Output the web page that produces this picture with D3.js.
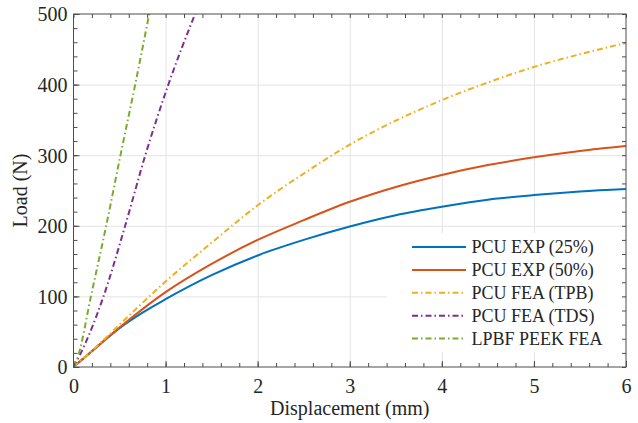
<!doctype html>
<html>
<head>
<script src="https://cdnjs.cloudflare.com/ajax/libs/d3/7.8.5/d3.min.js"></script>
<style>
body { margin: 0; background: #fff; }
.grid line { stroke: #e3e3e3; stroke-width: 1px; }
.grid path { display: none; }
.ax path { display: none; }
.ax line { stroke: #4d4d4d; stroke-width: 1px; }
</style>
</head>
<body>
<svg width="638" height="423"></svg>
<script>
// displacement (mm) samples for the experimental curves and TPB model
var disp = [0, 0.25, 0.5, 0.75, 1, 1.5, 2, 2.5, 3, 3.5, 4, 4.5, 5, 5.5, 6];
var exp25 = [0, 28, 55, 77, 96, 130, 158, 180, 199, 215, 227, 237, 243.5, 248.5, 252];
var exp50 = [0, 28, 56, 82, 106, 146, 180, 208, 234, 255, 272, 286, 297, 306, 313];
var feaTPB = [0, 29, 60, 91, 121, 176, 229, 274, 315, 349, 378, 403, 425, 443, 459];
// the two stiff models only go up to 500 N
var tdsDisp = [0, 0.073, 0.326, 0.561, 0.78, 1.03, 1.32];
var tdsLoad = [0, 18, 100, 200, 300, 400, 500];
var peekDisp = [0, 0.055, 0.189, 0.355, 0.51, 0.67, 0.822];
var peekLoad = [0, 18, 100, 200, 300, 400, 500];

var xTicks = [0, 1, 2, 3, 4, 5, 6];
var yTicks = [0, 100, 200, 300, 400, 500];
var names = ["PCU EXP (25%)", "PCU EXP (50%)", "PCU FEA (TPB)", "PCU FEA (TDS)", "LPBF PEEK FEA"];
var colors = ["#0072BD", "#D95319", "#EDB120", "#7E2F8E", "#77AC30"];

var series = [
  {x: disp, y: exp25, dash: null},
  {x: disp, y: exp50, dash: null},
  {x: disp, y: feaTPB, dash: "6,3,1.5,3"},
  {x: tdsDisp, y: tdsLoad, dash: "6,3,1.5,3"},
  {x: peekDisp, y: peekLoad, dash: "6,3,1.5,3"}
];

var FONT = "'Liberation Serif'";
var L = 73.5, T = 14, R = 626, B = 367;
var W = R - L, H = B - T;

var x = d3.scaleLinear().domain([0, 6]).range([0, W]);
var y = d3.scaleLinear().domain([0, 500]).range([H, 0]);

var svg = d3.select("svg");
var g = svg.append("g").attr("transform", "translate(" + L + "," + T + ")");

g.append("clipPath").attr("id", "clip")
  .append("rect").attr("width", W).attr("height", H);

// grid
g.append("g").attr("class", "grid")
  .attr("transform", "translate(0," + H + ")")
  .call(d3.axisBottom(x).tickValues(xTicks.slice(1, -1)).tickSize(-H).tickFormat(""));
g.append("g").attr("class", "grid")
  .call(d3.axisLeft(y).tickValues(yTicks.slice(1, -1)).tickSize(-W).tickFormat(""));

// curves
var line = d3.line()
  .x(d => x(d[0])).y(d => y(d[1]))
  .curve(d3.curveMonotoneX);

g.append("g").attr("clip-path", "url(#clip)")
  .selectAll("path")
  .data(series)
  .enter()
  .append("path")
  .attr("d", d => line(d.x.map((v, i) => [v, d.y[i]])))
  .attr("fill", "none")
  .attr("stroke", (d, i) => colors[i])
  .attr("stroke-width", 2)
  .attr("stroke-dasharray", d => d.dash);

// minor ticks on all sides
var xMinor = d3.range(0, 6.001, 0.2);
var yMinor = d3.range(0, 500.1, 20);
g.append("g").attr("class", "ax").attr("transform", "translate(0," + H + ")")
  .call(d3.axisBottom(x).tickValues(xMinor).tickSize(-4).tickFormat(""));
g.append("g").attr("class", "ax")
  .call(d3.axisTop(x).tickValues(xMinor).tickSize(-4).tickFormat(""));
g.append("g").attr("class", "ax")
  .call(d3.axisLeft(y).tickValues(yMinor).tickSize(-4).tickFormat(""));
g.append("g").attr("class", "ax").attr("transform", "translate(" + W + ",0)")
  .call(d3.axisRight(y).tickValues(yMinor).tickSize(-4).tickFormat(""));

// labelled axes
var xa = g.append("g").attr("class", "ax").attr("transform", "translate(0," + H + ")")
  .call(d3.axisBottom(x).tickValues(xTicks).tickSize(-6).tickPadding(0).tickFormat(d3.format("d")));
xa.selectAll("text").attr("dy", null).attr("y", 25.5)
  .style("font-family", FONT).style("font-size", "20px").style("fill", "#262626");
var ya = g.append("g").attr("class", "ax")
  .call(d3.axisLeft(y).tickValues(yTicks).tickSize(-6).tickPadding(0).tickFormat(d3.format("d")));
ya.selectAll("text").attr("x", -6).attr("dy", "0.34em")
  .style("font-family", FONT).style("font-size", "20px").style("fill", "#262626");

// box
g.append("rect").attr("width", W).attr("height", H)
  .attr("fill", "none").attr("stroke", "#4d4d4d").attr("stroke-width", 1);

// axis labels
svg.append("text").attr("x", L + W / 2).attr("y", 414.5)
  .attr("text-anchor", "middle")
  .style("font-family", FONT).style("font-size", "20px").style("fill", "#262626")
  .text("Displacement (mm)");
svg.append("text").attr("transform", "translate(26.5," + (T + H / 2) + ") rotate(-90)")
  .attr("text-anchor", "middle")
  .style("font-family", FONT).style("font-size", "20px").style("fill", "#262626")
  .text("Load (N)");

// legend
var lg = svg.append("g");
lg.append("rect").attr("x", 387).attr("y", 233).attr("width", 235).attr("height", 119)
  .attr("fill", "#fff");
var row = lg.selectAll("g.row").data(names).enter().append("g")
  .attr("transform", (d, i) => "translate(0," + (247 + i * 22.9) + ")");
row.append("line")
  .attr("x1", 412).attr("x2", 466)
  .attr("stroke", (d, i) => colors[i])
  .attr("stroke-width", 2)
  .attr("stroke-dasharray", (d, i) => series[i].dash);
row.append("text").attr("x", 471.5).attr("dy", "0.35em")
  .style("font-family", FONT).style("font-size", "18px").style("fill", "#262626")
  .text(d => d);
</script>
</body>
</html>
